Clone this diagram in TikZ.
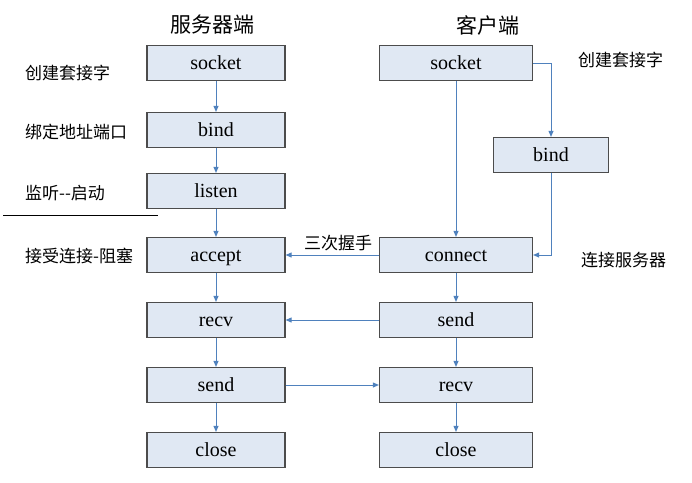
\documentclass[tikz,border=0pt]{standalone}
\usepackage{fontspec}
\setmainfont{Liberation Serif}
\newfontfamily\cjk{Noto Sans CJK SC}
\usetikzlibrary{arrows.meta}
\definecolor{boxfill}{HTML}{E0E8F3}
\definecolor{linkblue}{HTML}{4F81BD}
\begin{document}
\begin{tikzpicture}[x=1pt, y=-1pt, every node/.style={inner sep=0pt}]
	\tikzset{box/.style={draw=black!70, line width=1.2pt, fill=boxfill, minimum height=35pt, text height=15pt, text depth=2pt, font=\fontsize{20}{20}\selectfont}}
	\tikzset{note/.style={font=\cjk\fontsize{17}{17}\selectfont}}
	\tikzset{head/.style={font=\cjk\fontsize{21}{21}\selectfont}}
	\tikzset{link/.style={draw=linkblue, line width=0.9pt, -{Triangle[length=6pt,width=5pt]}}}
	\useasboundingbox (0,0) rectangle (692,482);
	\node[head] (t1) at (212,25) {服务器端};
	\node[head] (t2) at (488,25) {客户端};
	\node[box, minimum width=138pt] (n1) at (216,63) {socket};
	\node[box, minimum width=138pt] (n2) at (216,130) {bind};
	\node[box, minimum width=138pt] (n3) at (216,191) {listen};
	\node[box, minimum width=138pt] (n4) at (216,255) {accept};
	\node[box, minimum width=138pt] (n5) at (216,320) {recv};
	\node[box, minimum width=138pt] (n6) at (216,385) {send};
	\node[box, minimum width=138pt] (n7) at (216,450) {close};
	\node[box, minimum width=153pt] (m1) at (456,63) {socket};
	\node[box, minimum width=115pt] (m2) at (551,155) {bind};
	\node[box, minimum width=153pt] (m3) at (456,255) {connect};
	\node[box, minimum width=153pt] (m4) at (456,320) {send};
	\node[box, minimum width=153pt] (m5) at (456,385) {recv};
	\node[box, minimum width=153pt] (m6) at (456,450) {close};
	\node[note, anchor=west] (l1) at (25,73) {创建套接字};
	\node[note, anchor=west] (l2) at (25,132) {绑定地址端口};
	\node[note, anchor=west] (l3) at (25,193) {监听--启动};
	\node[note, anchor=west] (l4) at (25,256) {接受连接-阻塞};
	\node[note] (l5) at (338,243) {三次握手};
	\node[note, anchor=west] (r1) at (578,60) {创建套接字};
	\node[note, anchor=west] (r2) at (581,260) {连接服务器};
	\draw[black, line width=0.8pt] (3,215) -- (158,215);
	\draw[link] (n1) -- (n2);
	\draw[link] (n2) -- (n3);
	\draw[link] (n3) -- (n4);
	\draw[link] (n4) -- (n5);
	\draw[link] (n5) -- (n6);
	\draw[link] (n6) -- (n7);
	\draw[link] (m1) -- (m3);
	\draw[link] (m1.east) -| (m2.north);
	\draw[link] (m2.south) |- (m3.east);
	\draw[link] (m3) -- (m4);
	\draw[link] (m4) -- (m5);
	\draw[link] (m5) -- (m6);
	\draw[link] (m3) -- (n4);
	\draw[link] (m4) -- (n5);
	\draw[link] (n6) -- (m5);
\end{tikzpicture}
\end{document}
